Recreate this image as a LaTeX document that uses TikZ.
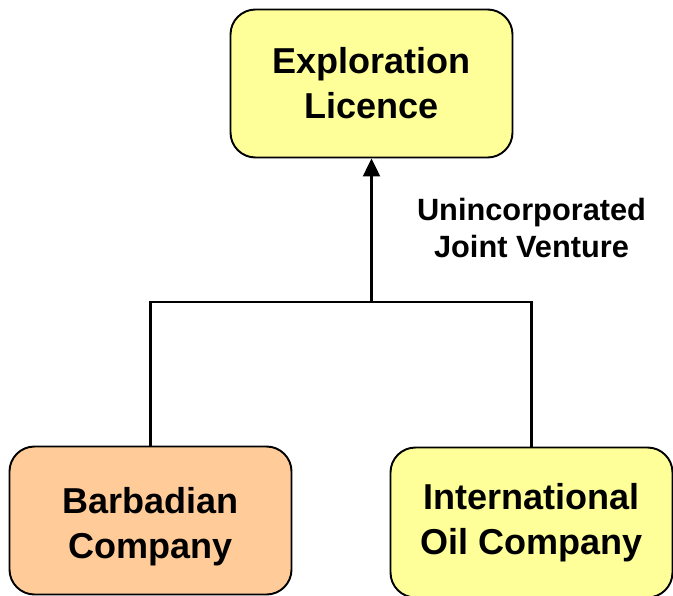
\documentclass[tikz,border=0pt]{standalone}
\usepackage{fontspec}
\setmainfont{Liberation Sans}
\usetikzlibrary{arrows.meta}
\definecolor{boxyellow}{HTML}{FFFF99}
\definecolor{boxorange}{HTML}{FFCC99}
\tikzset{
  entity/.style={draw, line width=1.1pt, rounded corners=0.5cm, align=center,
    minimum width=5.64cm, minimum height=2.96cm,
    font=\fontsize{20.5}{25.5}\selectfont\bfseries},
  link/.style={line width=1.3pt},
}

\begin{document}
\begin{tikzpicture}
    \useasboundingbox (0,0) rectangle (13.46,-11.9);
    \node[entity, fill=boxyellow] (licence) at (7.43,-1.67) {Exploration\\Licence};
    \node[entity, fill=boxorange] (barbados) at (3.01,-10.41) {\\[-4pt]Barbadian\\Company};
    \node[entity, fill=boxyellow, minimum height=3.0cm] (ioc) at (10.63,-10.45) {International\\Oil Company};
    \coordinate (join) at (7.43,-6.04);

    \draw[link] (barbados.north) |- (join) -| (ioc.north);
    \draw[link, -{Triangle[length=0.36cm, width=0.34cm]}] (join) -- (licence.south);

    \node[align=center, font=\fontsize{17.5}{20.5}\selectfont\bfseries] (ujv) at (10.63,-4.56) {Unincorporated\\Joint Venture};
\end{tikzpicture}
\end{document}
